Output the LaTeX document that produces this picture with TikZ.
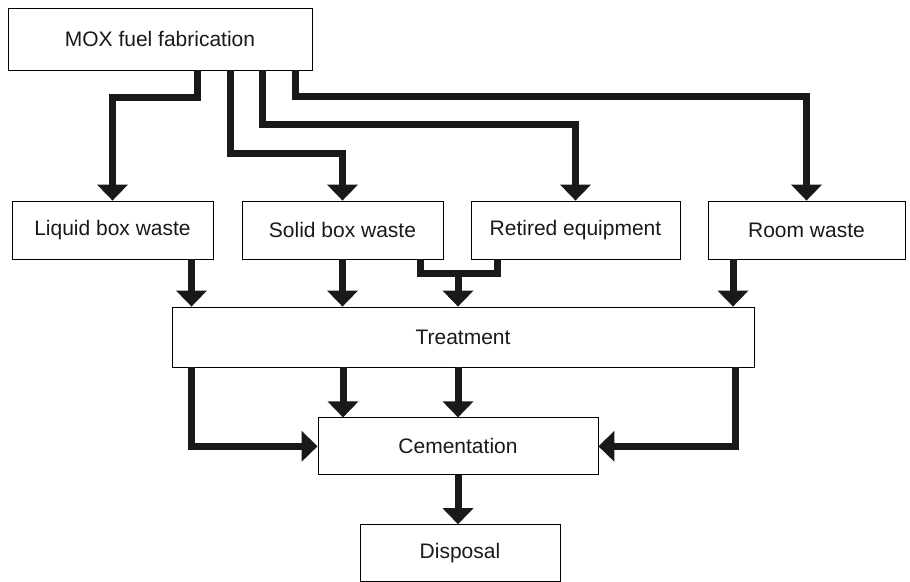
\documentclass[tikz,border=0pt]{standalone}
\usepackage{fontspec}
\setmainfont{Liberation Sans}
\usetikzlibrary{arrows.meta}
\usetikzlibrary{positioning}
\definecolor{fg}{rgb}{0.1,0.1,0.1}
\tikzstyle{box}=[draw, line width=0.8pt, minimum height=58pt, inner sep=0pt,
anchor=center, text centered, text=fg, font=\fontsize{21}{25}\selectfont]
\tikzstyle{myarrow}=[-{Triangle[length=16pt,width=30pt]}, line width=7pt, draw=fg]
\tikzstyle{myline}=[line width=7pt, draw=fg]

\begin{document}
\begin{tikzpicture}[x=1pt, y=1pt]
    \useasboundingbox (0,0) rectangle (910,-581);

    \node[box, minimum width=304pt, minimum height=62pt] (mox) at (160,-39) {MOX fuel fabrication};

    \node[box, minimum width=201pt] (liquid) at (112.5,-230) {Liquid box waste};
    \node[box, minimum width=201pt] (solid) at (342.5,-230) {Solid box waste};
    \node[box, minimum width=209pt] (retired) at (575.5,-230) {Retired equipment};
    \node[box, minimum width=197pt] (room) at (806.5,-230) {Room waste};

    \draw[myarrow] ([xshift=37pt]mox.south) -- ++(0,-27) -| (liquid.north);
    \draw[myarrow] ([xshift=70pt]mox.south) -- ++(0,-83) -| (solid.north);
    \draw[myarrow] ([xshift=102pt]mox.south) -- ++(0,-54) -| (retired.north);
    \draw[myarrow] ([xshift=135pt]mox.south) -- ++(0,-26) -| (room.north);

    \node[box, minimum width=582pt, minimum height=60pt] (treat) at (463,-337) {Treatment};

    \draw[myarrow] ([xshift=79pt]liquid.south) coordinate (l) -- (l |- treat.north);
    \draw[myarrow] (solid.south) -- (solid.south |- treat.north);
    \draw[myline] ([xshift=77.5pt]solid.south) -- ++(0,-14) coordinate (j) -| ([xshift=-78.5pt]retired.south);
    \draw[myarrow] ([xshift=38pt]j) coordinate (jm) -- (jm |- treat.north);
    \draw[myarrow] ([xshift=-73.5pt]room.south) coordinate (r) -- (r |- treat.north);

    \node[box, minimum width=280pt, minimum height=57pt, below=50pt of treat.south, xshift=-5pt, anchor=north] (cement) {Cementation};

    \draw[myarrow] ([xshift=-115pt]cement.north |- treat.south) -- ([xshift=-115pt]cement.north);
    \draw[myarrow] (cement.north |- treat.south) -- (cement.north);
    \draw[myarrow] ([xshift=20pt]treat.south west) |- (cement.west);
    \draw[myarrow] ([xshift=-19pt]treat.south east) |- (cement.east);

    \node[box, minimum width=200pt, minimum height=57pt, below=49pt of cement.south, xshift=2pt, anchor=north] (disp) {Disposal};
    \draw[myarrow] (cement.south) -- (cement.south |- disp.north);
\end{tikzpicture}
\end{document}
